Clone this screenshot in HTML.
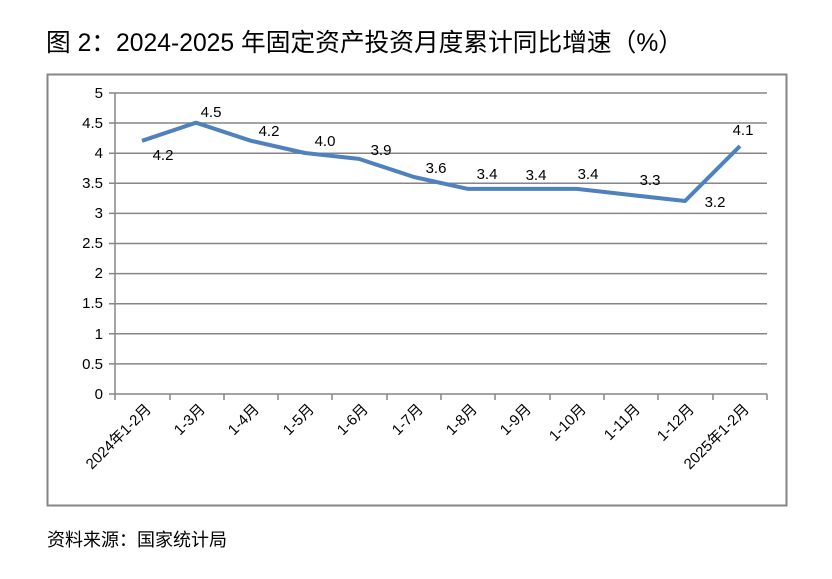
<!DOCTYPE html>
<html><head><meta charset="utf-8"><style>
body{margin:0;background:#fff;width:832px;height:574px;overflow:hidden}
svg text{font-family:"Liberation Sans","Noto Sans CJK SC",sans-serif;fill:#000}
</style></head><body>
<svg width="832" height="574" xmlns="http://www.w3.org/2000/svg">
<text x="46" y="51" font-size="25" textLength="637" lengthAdjust="spacingAndGlyphs">图 2：2024-2025 年固定资产投资月度累计同比增速（%）</text>
<rect x="47.5" y="74.5" width="739" height="431" fill="none" stroke="#868686" stroke-width="2"/>
<g stroke="#868686" stroke-width="1.5">
<line x1="109" y1="93" x2="767" y2="93"/><line x1="109" y1="123" x2="767" y2="123"/>
<line x1="109" y1="153.2" x2="767" y2="153.2"/><line x1="109" y1="183.3" x2="767" y2="183.3"/>
<line x1="109" y1="213.4" x2="767" y2="213.4"/><line x1="109" y1="243.5" x2="767" y2="243.5"/>
<line x1="109" y1="273.6" x2="767" y2="273.6"/><line x1="109" y1="303.7" x2="767" y2="303.7"/>
<line x1="109" y1="333.8" x2="767" y2="333.8"/><line x1="109" y1="363.9" x2="767" y2="363.9"/>
<line x1="109" y1="394" x2="767" y2="394"/>
<line x1="115" y1="93" x2="115" y2="400"/>
<line x1="170" y1="394" x2="170" y2="400"/><line x1="224" y1="394" x2="224" y2="400"/>
<line x1="278" y1="394" x2="278" y2="400"/><line x1="332" y1="394" x2="332" y2="400"/>
<line x1="387" y1="394" x2="387" y2="400"/><line x1="441" y1="394" x2="441" y2="400"/>
<line x1="495" y1="394" x2="495" y2="400"/><line x1="550" y1="394" x2="550" y2="400"/>
<line x1="604" y1="394" x2="604" y2="400"/><line x1="658" y1="394" x2="658" y2="400"/>
<line x1="713" y1="394" x2="713" y2="400"/><line x1="767" y1="394" x2="767" y2="400"/>
</g>
<g font-size="15" text-anchor="end">
<text x="103" y="98">5</text><text x="103" y="128">4.5</text><text x="103" y="158">4</text>
<text x="103" y="188">3.5</text><text x="103" y="218">3</text><text x="103" y="248">2.5</text>
<text x="103" y="278">2</text><text x="103" y="308">1.5</text><text x="103" y="339">1</text>
<text x="103" y="369">0.5</text><text x="103" y="399">0</text>
</g>
<polyline fill="none" stroke="#4f81bd" stroke-width="4" stroke-linejoin="round" points="142,140.8 196,122.7 251,140.8 305,153 359,158.9 414,177 468,188.9 522,188.9 577,188.9 631,195 685,201 740,146.1"/>
<g font-size="15" text-anchor="middle">
<text x="163" y="160">4.2</text><text x="211" y="117">4.5</text><text x="269" y="136">4.2</text>
<text x="325" y="146">4.0</text><text x="381" y="155">3.9</text><text x="436" y="173">3.6</text>
<text x="487" y="179">3.4</text><text x="536" y="180">3.4</text><text x="588" y="179">3.4</text>
<text x="650" y="185">3.3</text><text x="715" y="207">3.2</text><text x="743" y="135">4.1</text>
</g>
<g font-size="15" text-anchor="end">
<text transform="translate(152,410) rotate(-45)">2024年1-2月</text>
<text transform="translate(206,410) rotate(-45)">1-3月</text>
<text transform="translate(260,410) rotate(-45)">1-4月</text>
<text transform="translate(315,410) rotate(-45)">1-5月</text>
<text transform="translate(369,410) rotate(-45)">1-6月</text>
<text transform="translate(424,410) rotate(-45)">1-7月</text>
<text transform="translate(478,410) rotate(-45)">1-8月</text>
<text transform="translate(532,410) rotate(-45)">1-9月</text>
<text transform="translate(587,410) rotate(-45)">1-10月</text>
<text transform="translate(641,410) rotate(-45)">1-11月</text>
<text transform="translate(695,410) rotate(-45)">1-12月</text>
<text transform="translate(750,410) rotate(-45)">2025年1-2月</text>
</g>
<text x="47" y="546" font-size="18">资料来源：国家统计局</text>
</svg>
</body></html>
